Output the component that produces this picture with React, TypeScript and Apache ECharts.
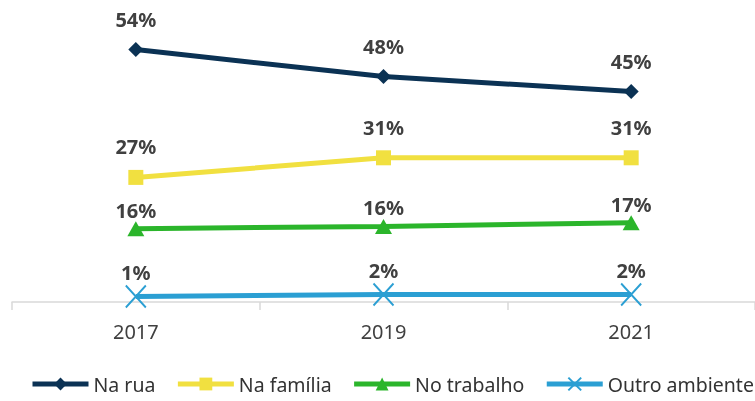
import React, { useEffect, useRef } from "react";
import * as echarts from "echarts";

const categories = ["2017", "2019", "2021"];
const naRua = [54.1, 48.3, 45.1];
const naFamilia = [26.7, 30.9, 30.9];
const noTrabalho = [15.7, 16.2, 17.0];
const outroAmbiente = [1.2, 1.6, 1.6];
const seriesNames = ["Na rua", "Na família", "No trabalho", "Outro ambiente"];

const FONT = "'Noto Sans', sans-serif";
const TXT = "#404040";

export default function App() {
  const ref = useRef<HTMLDivElement>(null);
  useEffect(() => {
    const chart = echarts.init(ref.current!, null, { renderer: "svg" });
    const label = (distance: number) => ({
      show: true,
      position: "top",
      distance,
      formatter: (p: any) => Math.round(p.value) + "%",
      fontFamily: FONT,
      fontSize: 20,
      fontWeight: "bold",
      color: TXT,
    });
    chart.setOption({
      animation: false,
      grid: { left: 12, top: 22, width: 745, height: 280 },
      legend: {
        left: 30,
        top: 374,
        padding: 0,
        width: 724,
        itemWidth: 56,
        itemHeight: 16,
        itemGap: 20,
        lineStyle: { width: 5 },
        textStyle: { fontFamily: FONT, fontSize: 19.5, color: "#333333" },
        data: seriesNames,
      },
      xAxis: {
        type: "category",
        data: categories,
        boundaryGap: true,
        axisLine: { lineStyle: { color: "#d9d9d9", width: 1.5 } },
        axisTick: { show: true, length: 8, lineStyle: { color: "#d9d9d9", width: 1.5 } },
        axisLabel: { fontFamily: FONT, fontSize: 20, color: TXT, margin: 19 },
      },
      yAxis: { type: "value", min: 0, max: 60, show: false, splitLine: { show: false } },
      series: [
        {
          name: seriesNames[0],
          type: "line",
          data: naRua,
          symbol: "diamond",
          symbolSize: 15,
          lineStyle: { color: "#0B3254", width: 5 },
          itemStyle: { color: "#0B3254" },
          label: label(13),
        },
        {
          name: seriesNames[1],
          type: "line",
          data: naFamilia,
          symbol: "rect",
          symbolSize: 15,
          lineStyle: { color: "#F1E040", width: 5 },
          itemStyle: { color: "#F1E040" },
          label: label(13),
        },
        {
          name: seriesNames[2],
          type: "line",
          data: noTrabalho,
          symbol: "triangle",
          symbolSize: [17, 15],
          lineStyle: { color: "#2BB52B", width: 5 },
          itemStyle: { color: "#2BB52B" },
          label: label(1),
        },
        {
          name: seriesNames[3],
          type: "line",
          data: outroAmbiente,
          symbol: "path://M0,0L20,22M20,0L0,22",
          symbolSize: [20, 22],
          lineStyle: { color: "#2B9FD3", width: 5 },
          itemStyle: { color: "none", borderColor: "#2B9FD3", borderWidth: 2 },
          label: label(0),
        },
      ],
    });
    return () => chart.dispose();
  }, []);
  return (
    <div
      ref={ref}
      style={{ position: "fixed", left: 0, top: 0, width: 755, height: 401 }}
    />
  );
}
